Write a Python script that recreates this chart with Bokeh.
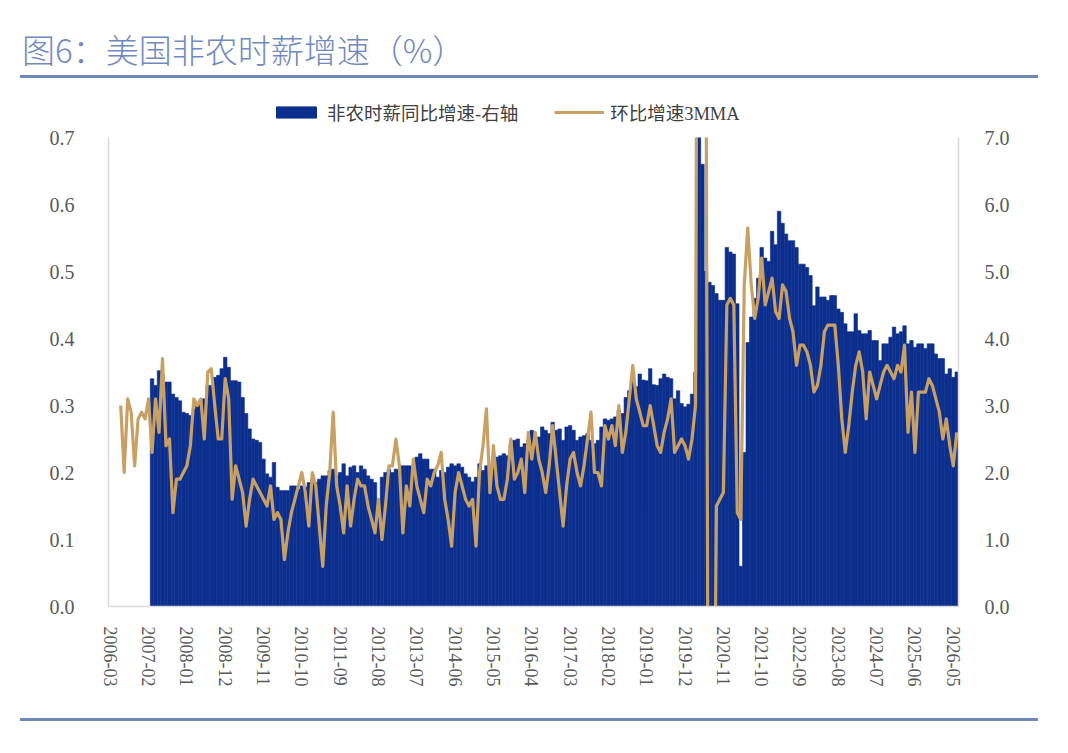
from bokeh.plotting import figure
from bokeh.models import (Range1d, LinearAxis, Legend, LegendItem, FixedTicker,
                          Div, PrintfTickFormatter)
from bokeh.layouts import column
from bokeh.embed import file_html
from bokeh.resources import INLINE

# ---------------- data ----------------
# monthly categories 2006-03 .. 2026-06
start_year, start_month, n_months = 2006, 3, 244
months = []
yy, mm = start_year, start_month
for _ in range(n_months):
    months.append(f"{yy}-{mm:02d}")
    mm += 1
    if mm > 12:
        mm, yy = 1, yy + 1

# non-farm hourly earnings YoY (%), right axis, starting 2007-03
yoy_start = "2007-03"
yoy = [
    3.40, 3.30, 3.52, 3.45, 3.35, 3.35, 3.17, 3.12, 3.07, 2.90,                    # 2007
    2.88, 2.85, 2.95, 3.00, 3.05, 3.10, 3.30, 3.30, 3.42, 3.45, 3.55, 3.72,        # 2008
    3.57, 3.37, 3.37, 3.35, 3.12, 2.88, 2.65, 2.50, 2.48, 2.45, 2.20, 1.98,        # 2009
    1.93, 2.15, 1.78, 1.73, 1.73, 1.73, 1.80, 1.80, 1.75, 1.80, 1.78, 1.85,        # 2010
    1.90, 1.85, 1.90, 1.95, 1.95, 2.03, 2.05, 1.95, 2.00, 2.13, 1.95, 2.08,        # 2011
    2.10, 2.00, 2.10, 2.05, 1.95, 1.90, 1.85, 1.60, 1.93, 2.00, 2.05, 2.00,        # 2012
    2.05, 2.03, 2.10, 2.10, 2.10, 2.03, 2.23, 2.28, 2.20, 2.20, 2.05, 2.05,        # 2013
    1.93, 2.03, 2.00, 2.08, 2.13, 2.10, 2.13, 2.08, 1.98, 1.93, 1.86, 1.93,        # 2014
    2.13, 2.03, 2.10, 2.08, 2.08, 2.23, 2.25, 2.28, 2.25, 2.43, 2.48, 2.50,        # 2015
    2.38, 2.43, 2.48, 2.63, 2.45, 2.53, 2.68, 2.63, 2.58, 2.75, 2.63, 2.65,        # 2016
    2.48, 2.68, 2.70, 2.63, 2.48, 2.53, 2.55, 2.58, 2.48, 2.43, 2.48, 2.68,        # 2017
    2.80, 2.78, 2.80, 2.83, 2.93, 2.88, 3.12, 3.22, 3.45, 3.28, 3.47, 3.38,        # 2018
    3.37, 3.55, 3.31, 3.30, 3.40, 3.47, 3.42, 3.40, 3.10, 3.22, 3.03, 2.98,        # 2019
    3.02, 3.17, 3.50, 8.00, 6.60, 5.00, 4.84, 4.79, 4.67, 4.57, 4.57, 5.36,        # 2020
    5.29, 5.26, 4.52, 0.60, 2.30, 3.94, 4.32, 4.60, 4.90, 5.36, 5.20, 5.15,        # 2021
    5.60, 5.40, 5.90, 5.72, 5.56, 5.46, 5.46, 5.36, 5.11, 5.11, 5.06, 4.94,        # 2022
    4.49, 4.77, 4.62, 4.62, 4.57, 4.64, 4.64, 4.44, 4.39, 4.22, 4.10, 4.10,        # 2023
    4.37, 4.12, 4.07, 4.07, 4.12, 3.97, 3.97, 3.67, 3.92, 3.92, 4.02, 4.17,        # 2024
    4.07, 4.10, 4.19, 3.92, 3.97, 3.87, 3.92, 3.92, 3.85, 3.92, 3.92, 3.77,        # 2025
    3.70, 3.70, 3.47, 3.55, 3.42, 3.50,                                            # 2026
]

# month-on-month growth, 3-month moving average (%), left axis, starting 2006-06
mom_start = "2006-06"
mom3 = [
    0.30, 0.20, 0.31, 0.29, 0.21, 0.28, 0.29,                                      # 2006
    0.28, 0.31, 0.23, 0.31, 0.26, 0.37, 0.24, 0.25, 0.14, 0.19, 0.19, 0.20,        # 2007
    0.21, 0.24, 0.31, 0.30, 0.31, 0.25, 0.35, 0.355, 0.30, 0.25, 0.25, 0.34,       # 2008
    0.31, 0.16, 0.21, 0.19, 0.17, 0.12, 0.16, 0.19, 0.18, 0.17, 0.16, 0.15,        # 2009
    0.18, 0.13, 0.14, 0.13, 0.07, 0.11, 0.14, 0.16, 0.18, 0.20, 0.17, 0.12,        # 2010
    0.20, 0.18, 0.12, 0.06, 0.15, 0.20, 0.29, 0.18, 0.15, 0.11, 0.18, 0.12,        # 2011
    0.16, 0.19, 0.18, 0.18, 0.15, 0.13, 0.11, 0.16, 0.10, 0.15, 0.21, 0.21,        # 2012
    0.25, 0.21, 0.11, 0.18, 0.15, 0.22, 0.18, 0.16, 0.14, 0.19, 0.18, 0.20,        # 2013
    0.21, 0.23, 0.16, 0.13, 0.09, 0.17, 0.20, 0.18, 0.16, 0.15, 0.16, 0.09,        # 2014
    0.20, 0.24, 0.295, 0.17, 0.24, 0.18, 0.16, 0.16, 0.19, 0.25, 0.19, 0.20,       # 2015
    0.22, 0.17, 0.26, 0.22, 0.26, 0.22, 0.20, 0.17, 0.21, 0.27, 0.22, 0.17,        # 2016
    0.12, 0.18, 0.22, 0.23, 0.20, 0.18, 0.21, 0.25, 0.29, 0.20, 0.20, 0.18,        # 2017
    0.27, 0.25, 0.27, 0.24, 0.30, 0.23, 0.26, 0.31, 0.36, 0.31, 0.29, 0.27,        # 2018
    0.27, 0.30, 0.27, 0.24, 0.23, 0.26, 0.28, 0.31, 0.23, 0.24, 0.25, 0.24,        # 2019
    0.22, 0.25, 0.30, 1.90, 1.50, 0.90, -0.90, -0.50, 0.15, 0.16, 0.17, 0.45,      # 2020
    0.46, 0.45, 0.14, 0.13, 0.48, 0.565, 0.48, 0.43, 0.46, 0.52, 0.45, 0.47,       # 2021
    0.49, 0.44, 0.43, 0.48, 0.47, 0.43, 0.41, 0.36, 0.39, 0.39, 0.38, 0.36,        # 2022
    0.32, 0.33, 0.36, 0.41, 0.42, 0.42, 0.42, 0.36, 0.28, 0.23, 0.27, 0.32,        # 2023
    0.36, 0.38, 0.35, 0.28, 0.35, 0.33, 0.31, 0.33, 0.35, 0.36, 0.35, 0.34,        # 2024
    0.36, 0.35, 0.39, 0.26, 0.32, 0.23, 0.32, 0.32, 0.32, 0.34, 0.33, 0.31,        # 2025
    0.29, 0.25, 0.28, 0.24, 0.21, 0.26,                                            # 2026
]

left_ticks = [0.0, 0.1, 0.2, 0.3, 0.4, 0.5, 0.6, 0.7]
right_ticks = [0.0, 1.0, 2.0, 3.0, 4.0, 5.0, 6.0, 7.0]
label_every = 11

legend_bar = "非农时薪同比增速-右轴"
legend_line = "环比增速3MMA"
title_text = "图6：美国非农时薪增速（%）"

# ---------------- build ----------------
x_yoy = list(range(months.index(yoy_start), months.index(yoy_start) + len(yoy)))
x_mom = list(range(months.index(mom_start), months.index(mom_start) + len(mom3)))

BAR = "#0C2F8E"
LINE = "#C9A064"
TXT = "#595959"
AX = "#D9D9D9"
MIX_FONT = "'Liberation Serif', 'Noto Sans CJK SC'"
NAN = float("nan")

# ---- legend strip (separate small figure above the chart) ----
lg = figure(width=1068, height=45, output_backend="svg", toolbar_location=None,
            x_range=Range1d(0, 1), y_range=Range1d(0, 1),
            min_border=0, min_border_left=0, min_border_right=0,
            min_border_top=0, min_border_bottom=0, outline_line_color=None,
            x_axis_location=None, y_axis_location=None,
            background_fill_color="white", border_fill_color="white")
lg.xgrid.visible = False
lg.ygrid.visible = False
# legend-only stand-in renderers (no visible data)
lg_bar = lg.vbar(x=[NAN], top=[NAN], width=0.1, fill_color=BAR, line_color=BAR)
lg_line = lg.line(x=[NAN], y=[NAN], line_color=LINE, line_width=3.2)
legend = Legend(items=[LegendItem(label=legend_bar, renderers=[lg_bar]),
                       LegendItem(label=legend_line, renderers=[lg_line])],
                orientation="horizontal", location=(163, 0),
                glyph_width=50, glyph_height=14, label_standoff=6, spacing=36,
                padding=0, margin=0, border_line_color=None,
                background_fill_alpha=0,
                label_text_font=MIX_FONT, label_text_font_size="18.5px",
                label_text_color="#404040")
lg.add_layout(legend, "center")

# ---- main chart ----
p = figure(width=1068, height=591, output_backend="svg", toolbar_location=None,
           x_range=Range1d(-0.5, n_months - 0.5), y_range=Range1d(0, 0.7),
           min_border_left=108, min_border_right=110, min_border_top=12,
           min_border_bottom=110, outline_line_color=None,
           background_fill_color="white", border_fill_color="white")
p.extra_y_ranges = {"right": Range1d(0, 7)}
p.xgrid.visible = False
p.ygrid.visible = False

bars = p.vbar(x=x_yoy, top=yoy, bottom=0, width=1.0, y_range_name="right",
              fill_color=BAR, line_color=BAR, line_width=0.6)
line = p.line(x=x_mom, y=mom3, line_color=LINE, line_width=3.2, line_join="round")

def style_axis(ax, standoff, size="20px"):
    ax.major_tick_line_color = None
    ax.minor_tick_line_color = None
    ax.axis_line_color = AX
    ax.axis_line_width = 1.5
    ax.major_label_text_color = TXT
    ax.major_label_text_font = "Liberation Serif"
    ax.major_label_text_font_size = size
    ax.major_label_standoff = standoff

ly = p.yaxis[0]
ly.ticker = FixedTicker(ticks=left_ticks)
ly.formatter = PrintfTickFormatter(format="%.1f")
style_axis(ly, 28)

ry = LinearAxis(y_range_name="right", ticker=FixedTicker(ticks=right_ticks),
                formatter=PrintfTickFormatter(format="%.1f"))
style_axis(ry, 20)
p.add_layout(ry, "right")

xa = p.xaxis[0]
tick_idx = list(range(0, n_months, label_every))
xa.ticker = FixedTicker(ticks=tick_idx)
xa.major_label_overrides = {i: months[i] for i in tick_idx}
xa.major_label_orientation = "vertical"
style_axis(xa, 14, "18px")

title_div = Div(
    text=('<div style="position:relative;width:1068px;height:80px;">'
          '<div style="position:absolute;left:22px;top:29px;font-family:\'Noto Sans CJK SC\';'
          'font-weight:300;font-size:33px;line-height:40px;color:#7189BE;white-space:nowrap;">'
          + title_text + '</div>'
          '<div style="position:absolute;left:20px;top:75px;width:1018px;height:3px;'
          'background:#6F88BA;"></div></div>'),
    width=1068, height=80, margin=0)

bottom_div = Div(
    text=('<div style="position:relative;width:1068px;height:37px;">'
          '<div style="position:absolute;left:20px;top:2px;width:1018px;height:3px;'
          'background:#6F88BA;"></div></div>'),
    width=1068, height=37, margin=0)

layout = column(title_div, lg, p, bottom_div, spacing=0)

open("out.html", "w").write(file_html(layout, INLINE))
